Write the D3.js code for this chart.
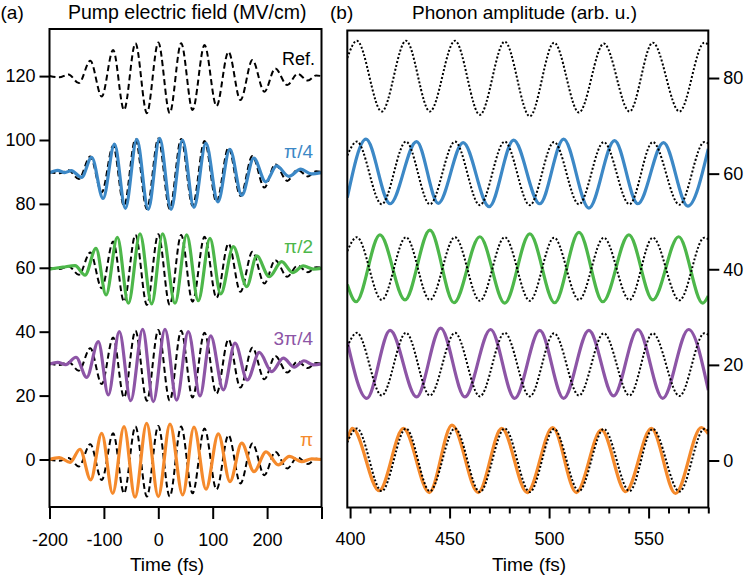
<!DOCTYPE html>
<html>
<head>
<meta charset="utf-8">
<script src="https://cdn.jsdelivr.net/npm/d3@7"></script>
<style>
  html, body { margin: 0; padding: 0; background: #fff; }
  svg { display: block; font-family: "Liberation Sans", Arial, Helvetica, sans-serif; }
</style>
</head>
<body>
<svg id="chart" width="747" height="579"></svg>
<script>
// ---------------- DATA ----------------
// Panel (a): pump electric field (MV/cm) vs time (fs); extrema [t, value]
const pumpRef = [[-200,120],[-182,119.6],[-165,120.5],[-146,117.8],[-125,124.8],[-104,113.6],[-83,128.2],[-63,109.4],[-42,130.3],[-21,108.4],[0,130.5],[21,108.4],[42,130.3],[63,109.4],[85,129.7],[107,110.6],[129,127.6],[151,112.5],[173,125],[195,115.1],[215,122.4],[237,117.2],[256,120.7],[275,118.6],[290,120.2],[300,120]];
const pumpBlue = [[-200,89.7],[-185,90.5],[-172,89.8],[-160,90.4],[-141,88.3],[-122.5,94.6],[-101.5,81.7],[-80.5,98.7],[-60.5,78.6],[-39.5,100.2],[-18.5,78.3],[2.5,100.5],[23.5,78.3],[44.5,100],[65.5,78.9],[87.5,99],[109.5,80.6],[131.5,97.1],[153.5,82.7],[175.5,94.3],[197.5,86.9],[217.5,91.9],[240,88.6],[262,90.9],[281,89.4],[300,89.8]];
const pumpGreen = [[-200,59.6],[-175,60.2],[-153,60.7],[-134.7,57.7],[-114.5,66.1],[-96,51.5],[-75.3,69.5],[-55,48.9],[-33.6,70.6],[-12.2,48.7],[8,70.6],[30.7,48.9],[52.2,70.3],[73.5,49.7],[95,69.2],[114.7,51.8],[137.9,66.6],[162.5,54.1],[180.9,63.7],[204,57.2],[226.8,61.9],[247,58.5],[266.5,60.6],[285,59.6],[300,59.8]];
const pumpPurple = [[-200,29.9],[-185,30.4],[-170,29.7],[-151.3,32],[-131.6,25.7],[-110.3,36.9],[-91.9,20.2],[-71.7,40],[-50.7,18.4],[-28.7,40.7],[-9.2,18.1],[12.3,40.7],[33.8,18.6],[55.1,40],[76.7,19.9],[96.3,38.7],[119.5,21.8],[141,36.4],[163.6,24.9],[185.7,33.5],[208.5,27.5],[229.8,31.7],[250,28.9],[267.8,30.9],[285,29.6],[300,29.9]];
const pumpOrange = [[-200,0],[-182,0.6],[-162,-0.9],[-144,3.2],[-124.3,-6.4],[-104,8.2],[-83.8,-10.6],[-63,10.3],[-42.8,-11.8],[-21.4,11.3],[0,-11.6],[21.5,11.1],[44.8,-11.1],[65.6,10.1],[87.7,-9.3],[110.3,8],[131.8,-6.9],[153.3,5.1],[175.9,-3.8],[198,2.4],[220.6,-1.7],[240.8,1],[263.6,-0.7],[282,0.2],[300,0]];

// Panel (b): phonon amplitude (arb. u.) vs time (fs); extrema [t, value]
const phononRef = [[398.6,84.2],[403.4,87.8],[415.9,73],[428.1,87.8],[440.1,73],[452.7,87.8],[465.2,72.3],[477.7,87.6],[490.3,72],[502.5,87.4],[515,72.8],[527.5,87.2],[540.4,73],[552.1,87.4],[565.5,73],[578,87.4],[580,87]];
// dotted reference copy drawn with each coloured trace (relative to the row baseline)
const phononRefCopy = [[398.6,3.8],[403.4,6.7],[415.9,-6.4],[428.1,6.7],[440.1,-6.4],[452.7,6.7],[465.2,-6.6],[477.7,6.7],[490.3,-6.6],[502.5,6.6],[515,-6.4],[527.5,6.6],[540.4,-6.4],[552.1,6.6],[565.5,-6.5],[578,6.6],[580,6.3]];
const phononBlue = [[398.6,55],[408,67.2],[420.1,53.7],[433.4,66.7],[444.3,53.8],[456.8,66.5],[469.9,53.1],[482.2,67],[495.3,53.7],[507.3,67.2],[520,52.8],[532.9,66.9],[544.6,53.7],[557.5,66.5],[569.7,53.2],[580,65.2]];
const phononGreen = [[398.6,36.8],[403,33.2],[415,47.2],[427.6,33.6],[440.1,48.2],[452.2,33],[465.2,46.8],[477.7,32.9],[490.3,47.4],[502.8,33],[515,47.7],[527,33.2],[540.1,47.2],[552.1,33.6],[565.1,46.8],[577.2,32.9],[580,34.4]];
const phononPurple = [[398.6,24.8],[408.4,13],[420.1,27.2],[433.4,13.3],[445.5,27.7],[457.7,13.3],[470.6,27.4],[482.7,13],[495.3,27.2],[507.3,13],[520,27.2],[532.4,13.5],[544.6,27.4],[557.1,13],[570.1,27.4],[580,14.7]];
const phononOrange = [[398.6,4.2],[401.2,6.7],[414.6,-6.3],[426.8,6.7],[439.8,-6.7],[451.2,7.4],[464.4,-6.7],[476.2,6.7],[489,-6.7],[501.8,6.9],[513.7,-6.7],[526.3,6.4],[538.5,-6.5],[551.4,6.7],[563.5,-6.9],[576.5,6.9],[580,5.6]];

// series labels and row baselines
const seriesLabels = ["π/4", "π/2", "3π/4", "π"];
const seriesColors = ["#3c88c6", "#4db74a", "#8d55a6", "#f58a2c"];
const pumpOffsets = [90, 60, 30, 0];
const pumpRefOffset = 120;
const phononOffsets = [60, 40, 20, 0];

// ticks
const pumpXTicks = [-200, -100, 0, 100, 200, 300];
const pumpXTickLabels = ["-200", "-100", "0", "100", "200", ""];
const pumpYTicks = [0, 20, 40, 60, 80, 100, 120];
const phononXMajor = [400, 450, 500, 550];
const phononXMinor = [410, 420, 430, 440, 460, 470, 480, 490, 510, 520, 530, 540, 560, 570, 580];
const phononYTicks = [0, 20, 40, 60, 80];

// ---------------- DRAW ----------------
const svg = d3.select("#chart");
const pumpSeries = [pumpBlue, pumpGreen, pumpPurple, pumpOrange];
const phononSeries = [phononBlue, phononGreen, phononPurple, phononOrange];

const xL = d3.scaleLinear().domain([-200, 300]).range([49.5, 321.5]);
const yL = d3.scaleLinear().domain([-14.87, 134.74]).range([507, 29]);
const xR = d3.scaleLinear().domain([398.6, 580]).range([347.3, 708.3]);
const yR = d3.scaleLinear().domain([-9.83, 89.94]).range([507.5, 30.5]);

const lineL = d3.line().x(d => xL(d[0])).y(d => yL(d[1])).curve(d3.curveMonotoneX);
const lineR = d3.line().x(d => xR(d[0])).y(d => yR(d[1])).curve(d3.curveMonotoneX);

// clip paths
const defs = svg.append("defs");
defs.append("clipPath").attr("id", "clipL").append("rect")
  .attr("x", xL(-200)).attr("y", yL(134.74)).attr("width", xL(300) - xL(-200)).attr("height", yL(-14.87) - yL(134.74));
defs.append("clipPath").attr("id", "clipR").append("rect")
  .attr("x", xR(398.6)).attr("y", yR(89.94)).attr("width", xR(580) - xR(398.6)).attr("height", yR(-9.83) - yR(89.94));

// ----- Panel (a)
const gL = svg.append("g").attr("clip-path", "url(#clipL)");
gL.append("path").datum(pumpRef).attr("d", lineL)
  .attr("fill", "none").attr("stroke", "#000").attr("stroke-width", 2).attr("stroke-dasharray", "6,3.5");
pumpSeries.forEach((s, i) => {
  const refCopy = pumpRef.map(d => [d[0], d[1] - pumpRefOffset + pumpOffsets[i]]);
  gL.append("path").datum(refCopy).attr("d", lineL)
    .attr("fill", "none").attr("stroke", "#000").attr("stroke-width", 2).attr("stroke-dasharray", "6,3.5");
  gL.append("path").datum(s).attr("d", lineL)
    .attr("fill", "none").attr("stroke", seriesColors[i]).attr("stroke-width", 3.2)
    .attr("stroke-linejoin", "round");
});

// ----- Panel (b)
const gR = svg.append("g").attr("clip-path", "url(#clipR)");
gR.append("path").datum(phononRef).attr("d", lineR)
  .attr("fill", "none").attr("stroke", "#000").attr("stroke-width", 2).attr("stroke-dasharray", "2,2");
phononSeries.forEach((s, i) => {
  gR.append("path").datum(s).attr("d", lineR)
    .attr("fill", "none").attr("stroke", seriesColors[i]).attr("stroke-width", 3.2)
    .attr("stroke-linejoin", "round");
  const refCopy = phononRefCopy.map(d => [d[0], d[1] + phononOffsets[i]]);
  gR.append("path").datum(refCopy).attr("d", lineR)
    .attr("fill", "none").attr("stroke", "#000").attr("stroke-width", 2).attr("stroke-dasharray", "2,2");
});

// ----- Frames
svg.append("rect").attr("x", xL(-200)).attr("y", yL(134.74))
  .attr("width", xL(300) - xL(-200)).attr("height", yL(-14.87) - yL(134.74))
  .attr("fill", "none").attr("stroke", "#000").attr("stroke-width", 2);
svg.append("rect").attr("x", xR(398.6)).attr("y", yR(89.94))
  .attr("width", xR(580) - xR(398.6)).attr("height", yR(-9.83) - yR(89.94))
  .attr("fill", "none").attr("stroke", "#000").attr("stroke-width", 2);

// ----- Axes
function styleAxis(g, fs) {
  g.select(".domain").remove();
  g.selectAll(".tick line").attr("stroke", "#000").attr("stroke-width", 2);
  g.selectAll(".tick text").attr("fill", "#000").style("font-size", fs + "px")
    .style("font-family", '"Liberation Sans", Arial, sans-serif');
}

const axLB = svg.append("g").attr("transform", `translate(0,${yL(-14.87)})`)
  .call(d3.axisBottom(xL).tickValues(pumpXTicks).tickSize(12)
    .tickFormat((d, i) => pumpXTickLabels[i]));
styleAxis(axLB, 18);
axLB.selectAll(".tick text").attr("y", 26);

const axLL = svg.append("g").attr("transform", `translate(${xL(-200)},0)`)
  .call(d3.axisLeft(yL).tickValues(pumpYTicks).tickSize(10).tickPadding(4).tickFormat(d => String(d)));
styleAxis(axLL, 18);

const axRBminor = svg.append("g").attr("transform", `translate(0,${yR(-9.83)})`)
  .call(d3.axisBottom(xR).tickValues(phononXMinor).tickSize(6).tickFormat(""));
styleAxis(axRBminor, 18);
const axRB = svg.append("g").attr("transform", `translate(0,${yR(-9.83)})`)
  .call(d3.axisBottom(xR).tickValues(phononXMajor).tickSize(11).tickFormat(d => String(d)));
styleAxis(axRB, 18);
axRB.selectAll(".tick text").attr("y", 25);

const axRR = svg.append("g").attr("transform", `translate(${xR(580)},0)`)
  .call(d3.axisRight(yR).tickValues(phononYTicks).tickSize(11).tickPadding(4).tickFormat(d => String(d)));
styleAxis(axRR, 18);

// ----- Titles and labels
const txt = (x, y, s, size, anchor, color) => svg.append("text")
  .attr("x", x).attr("y", y).attr("text-anchor", anchor || "start")
  .attr("fill", color || "#000").style("font-size", size + "px").text(s);

txt(0.5, 19, "(a)", 19);
txt(68, 19, "Pump electric field (MV/cm)", 19.5);
txt(330, 19, "(b)", 19);
txt(412, 19, "Phonon amplitude (arb. u.)", 19);
txt(167, 571, "Time (fs)", 19, "middle");
txt(529, 571, "Time (fs)", 19, "middle");

txt(315, 65, "Ref.", 18, "end");
const labelBaselines = [158, 253, 345, 446];
seriesLabels.forEach((s, i) => txt(313, labelBaselines[i], s, 19, "end", seriesColors[i]));
</script>
</body>
</html>
